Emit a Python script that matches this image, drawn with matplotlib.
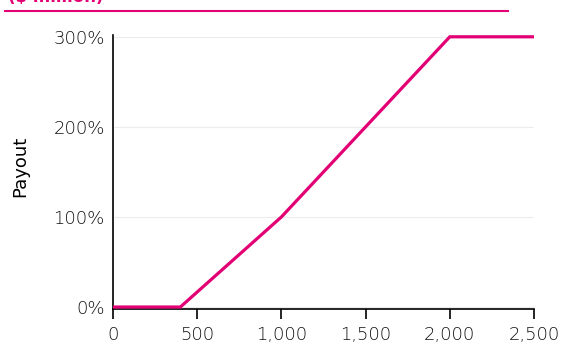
import matplotlib
matplotlib.use('Agg')
import matplotlib.pyplot as plt
from matplotlib.lines import Line2D

# data
target = [0, 400, 1000, 2000, 2500]
payout = [0, 0, 100, 300, 300]
xticks = [0, 500, 1000, 1500, 2000, 2500]
yticks = [0, 100, 200, 300]

magenta = '#E20074'
plt.rcParams['font.family'] = ['DejaVu Sans']

fig = plt.figure(figsize=(5.66, 3.42), dpi=100)
ax = fig.add_axes([113/566, 1 - 309/342, (534 - 113)/566, (309 - 35)/342])

# cut-off heading and rule at the top
fig.text(8/566, 1 - 1.5/342, '($ million)', color=magenta, fontsize=12,
         fontweight='bold', ha='left', va='baseline')
fig.add_artist(Line2D([5/566, 508/566], [1 - 11/342, 1 - 11/342],
                      color=magenta, lw=1.5))

ax.plot(target, payout, color=magenta, lw=2.3, solid_capstyle='butt',
        solid_joinstyle='miter', zorder=3)

ax.set_xlim(0, 2500)
ax.set_ylim(-2.2, 302)
ax.set_xticks(xticks)
ax.set_xticklabels([f'{v:,}' for v in xticks])
ax.set_yticks(yticks)
ax.set_yticklabels([f'{v}%' for v in yticks])

for s in ['top', 'right']:
    ax.spines[s].set_visible(False)
for s in ['left', 'bottom']:
    ax.spines[s].set_color('black')
    ax.spines[s].set_linewidth(1.2)

ax.grid(axis='y', color='#ececec', lw=0.8)
ax.set_axisbelow(True)
ax.tick_params(axis='x', direction='out', length=7, width=1.2, pad=5.5,
               labelsize=13, labelcolor='#111111')
ax.tick_params(axis='y', length=0, pad=6, labelsize=13, labelcolor='#111111')
for lab in ax.get_xticklabels() + ax.get_yticklabels():
    lab.set_fontweight(200)

ax.set_ylabel('Payout', fontsize=13, color='black')
ax.yaxis.set_label_coords(-0.2, 0.52)

fig.savefig('out.png', dpi=100)
